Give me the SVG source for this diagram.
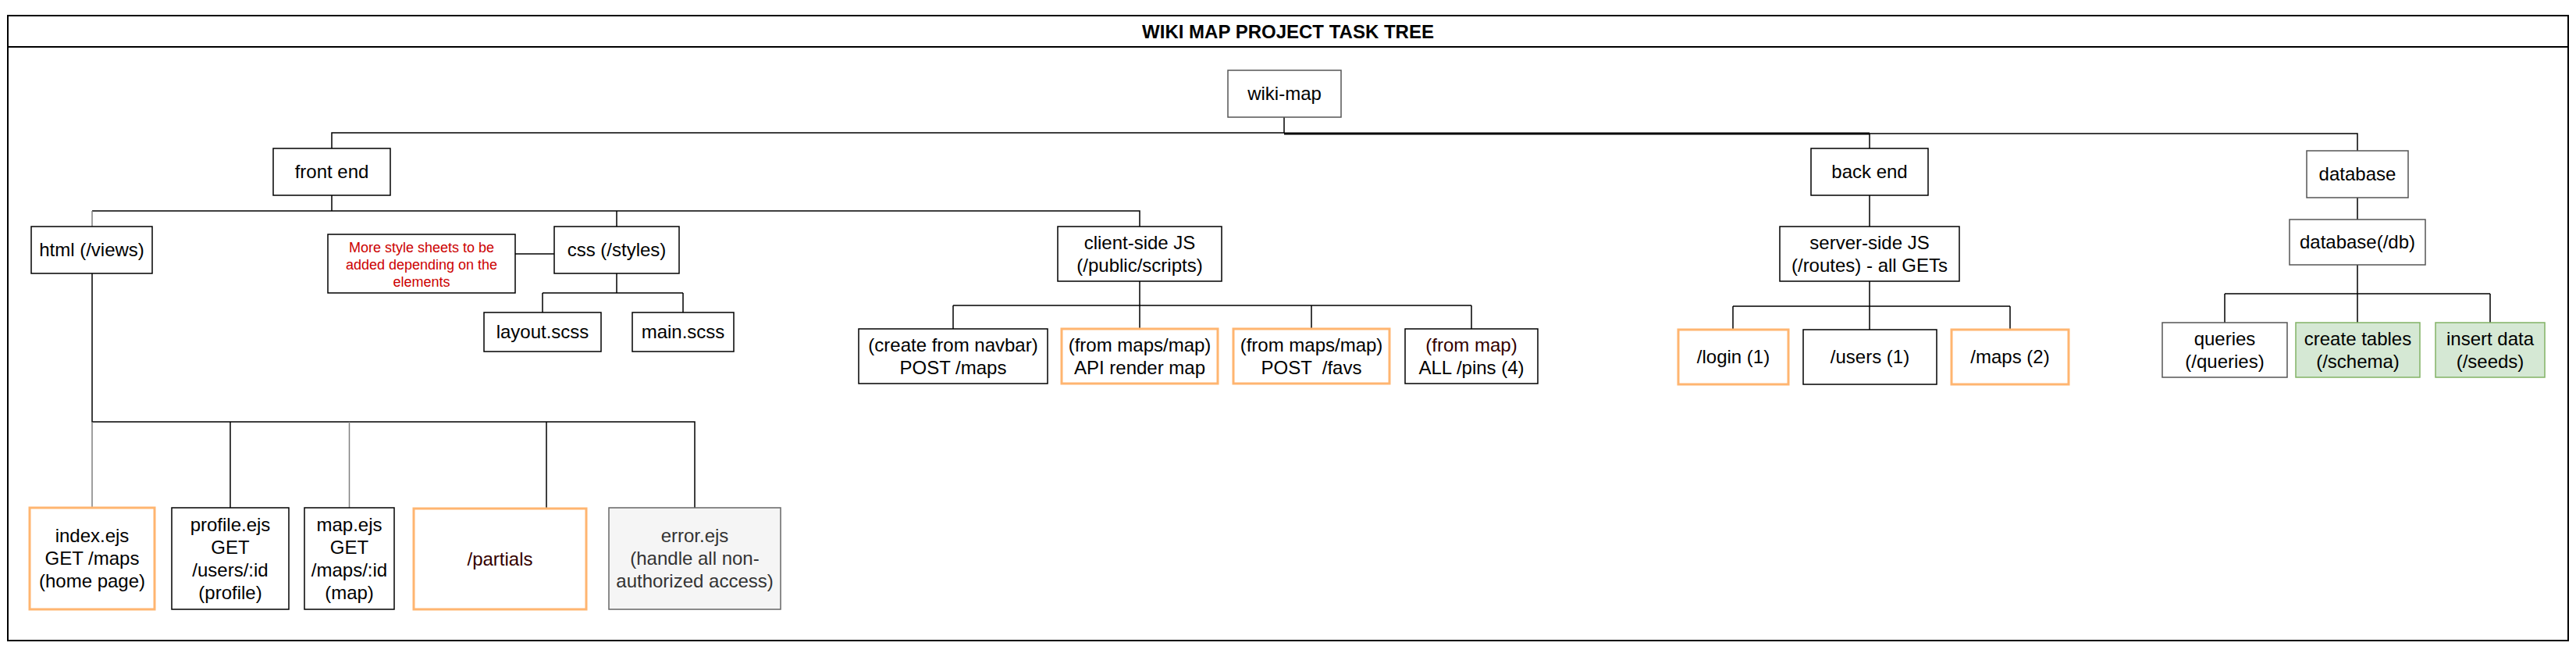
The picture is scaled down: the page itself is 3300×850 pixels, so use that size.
<svg xmlns="http://www.w3.org/2000/svg" width="3300" height="850" viewBox="0 0 3300 850">
<style>
text{font-family:"Liberation Sans",Arial,Helvetica,sans-serif;font-size:24px;fill:#000;text-anchor:middle}
.b{fill:#fff;stroke:#000;stroke-width:1.5}
.g{fill:#fff;stroke:#555;stroke-width:1.5}
.o{fill:#fff;stroke:#FFB570;stroke-width:3}
.gr{fill:#d5e8d4;stroke:#82b366;stroke-width:1.5}
.er{fill:#f5f5f5;stroke:#666;stroke-width:1.5}
.c{fill:none;stroke:#000;stroke-width:1.5}
.cg{fill:none;stroke:#808080;stroke-width:1.5}
.ct{fill:none;stroke:#000;stroke-width:3}
.red{fill:#CC0000;font-size:18px}
.dr{fill:#330000}
.gt{fill:#333}
</style>
<rect width="3300" height="850" fill="#fff"/>
<g id="frame">
<rect x="10" y="20" width="3280" height="800" fill="none" stroke="#000" stroke-width="2"/>
<line x1="10" y1="60" x2="3290" y2="60" stroke="#000" stroke-width="2"/>
<text x="1650" y="49" font-weight="bold">WIKI MAP PROJECT TASK TREE</text>
</g>
<g id="connectors">
<path class="c" d="M1645 150V170M425 190V170H1645"/>
<path class="ct" d="M1645 171H2395"/>
<path class="c" d="M2395 171H3020V193M2395 171V190"/>
<path class="c" d="M425 250V270H1460V290M790 270V290M118 270H425"/>
<path class="cg" d="M118 270V290"/>
<path class="c" d="M660 325H710"/>
<path class="c" d="M790 350V375M695 375H875M695 375V400M875 375V400"/>
<path class="c" d="M118 350V540H890V650M295 540V650M700 540V650"/>
<path class="cg" d="M118 540V650M447.5 540V650"/>
<path class="c" d="M1460 360V391M1221 391H1885M1221 391V421M1460 391V421M1680 391V421M1885 391V421"/>
<path class="c" d="M2395 250V290M2395 360V392M2220 392H2575M2220 392V422M2395 392V422M2575 392V422"/>
<path class="c" d="M3020 253V281M3020 339V376M2850 376H3190M2850 376V413M3020 376V413M3190 376V413"/>
</g>
<g id="wiki-map"><rect class="g" x="1573" y="90" width="145" height="60"/><text x="1645.5" y="128">wiki-map</text></g>
<g id="front-end"><rect class="b" x="350" y="190" width="150" height="60"/><text x="425" y="228">front end</text></g>
<g id="back-end"><rect class="b" x="2320" y="190" width="150" height="60"/><text x="2395" y="228">back end</text></g>
<g id="database"><rect class="g" x="2955" y="193" width="130" height="60"/><text x="3020" y="231">database</text></g>
<g id="html"><rect class="b" x="40" y="290" width="155" height="60"/><text x="117.5" y="328">html (/views)</text></g>
<g id="note"><rect class="b" x="420" y="300" width="240" height="75"/><text class="red" x="540" y="323">More style sheets to be</text><text class="red" x="540" y="345">added depending on the</text><text class="red" x="540" y="367">elements</text></g>
<g id="css"><rect class="b" x="710" y="290" width="160" height="60"/><text x="790" y="328">css (/styles)</text></g>
<g id="layout-scss"><rect class="b" x="620" y="400" width="150" height="50"/><text x="695" y="433">layout.scss</text></g>
<g id="main-scss"><rect class="b" x="810" y="400" width="130" height="50"/><text x="875" y="433">main.scss</text></g>
<g id="client-js"><rect class="b" x="1355" y="290" width="210" height="70"/><text x="1460" y="319">client-side JS</text><text x="1460" y="348">(/public/scripts)</text></g>
<g id="create-navbar"><rect class="b" x="1100" y="421" width="242" height="70"/><text x="1221" y="450">(create from navbar)</text><text x="1221" y="479">POST /maps</text></g>
<g id="api-render"><rect class="o" x="1360" y="421" width="200" height="70"/><text x="1460" y="450">(from maps/map)</text><text x="1460" y="479">API render map</text></g>
<g id="post-favs"><rect class="o" x="1580" y="421" width="200" height="70"/><text x="1680" y="450">(from maps/map)</text><text x="1680" y="479" xml:space="preserve" style="white-space:pre">POST  /favs</text></g>
<g id="pins"><rect class="b" x="1800" y="421" width="170" height="70"/><text class="dr" x="1885" y="450">(from map)</text><text x="1885" y="479">ALL /pins (4)</text></g>
<g id="server-js"><rect class="b" x="2280" y="290" width="230" height="70"/><text x="2395" y="319">server-side JS</text><text x="2395" y="348">(/routes) - all GETs</text></g>
<g id="login"><rect class="o" x="2150" y="422" width="141" height="70"/><text x="2220.5" y="465">/login (1)</text></g>
<g id="users"><rect class="b" x="2310" y="422" width="171" height="70"/><text x="2395.5" y="465">/users (1)</text></g>
<g id="maps"><rect class="o" x="2500" y="422" width="150" height="70"/><text x="2575" y="465">/maps (2)</text></g>
<g id="database-db"><rect class="g" x="2933" y="281" width="174" height="58"/><text x="3020" y="318">database(/db)</text></g>
<g id="queries"><rect class="g" x="2770" y="413" width="160" height="70"/><text x="2850" y="442">queries</text><text x="2850" y="471">(/queries)</text></g>
<g id="create-tables"><rect class="gr" x="2941" y="413" width="159" height="70"/><text x="3020.5" y="442">create tables</text><text x="3020.5" y="471">(/schema)</text></g>
<g id="insert-data"><rect class="gr" x="3120" y="413" width="140" height="70"/><text x="3190" y="442">insert data</text><text x="3190" y="471">(/seeds)</text></g>
<g id="index-ejs"><rect class="o" x="38" y="650" width="160" height="130"/><text x="118" y="694">index.ejs</text><text x="118" y="723">GET /maps</text><text x="118" y="752">(home page)</text></g>
<g id="profile-ejs"><rect class="b" x="220" y="650" width="150" height="130"/><text x="295" y="680">profile.ejs</text><text x="295" y="709">GET</text><text x="295" y="738">/users/:id</text><text x="295" y="767">(profile)</text></g>
<g id="map-ejs"><rect class="b" x="390" y="650" width="115" height="130"/><text x="447.5" y="680">map.ejs</text><text x="447.5" y="709">GET</text><text x="447.5" y="738">/maps/:id</text><text x="447.5" y="767">(map)</text></g>
<g id="partials"><rect class="o" x="530" y="651" width="221" height="129"/><text class="dr" x="640.5" y="724">/partials</text></g>
<g id="error-ejs"><rect class="er" x="780" y="650" width="220" height="130"/><text class="gt" x="890" y="694">error.ejs</text><text class="gt" x="890" y="723">(handle all non-</text><text class="gt" x="890" y="752">authorized access)</text></g>
</svg>
